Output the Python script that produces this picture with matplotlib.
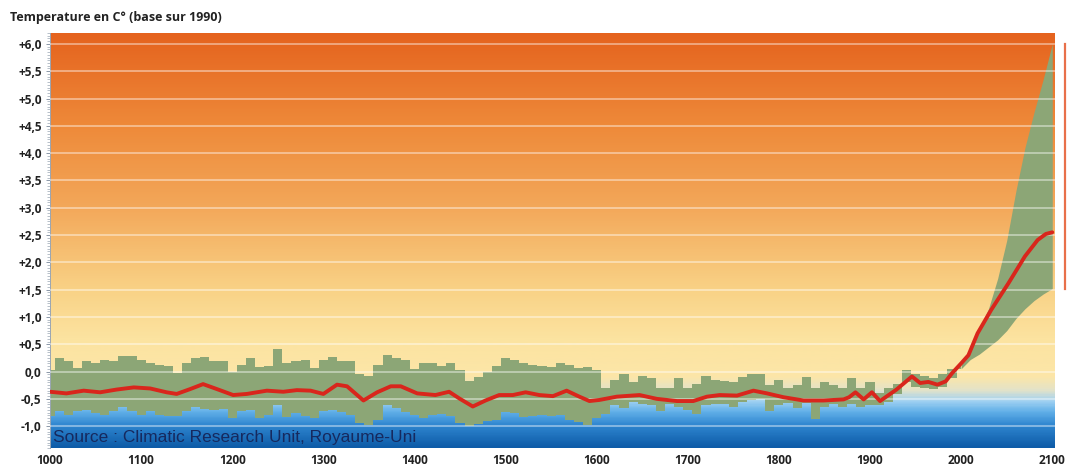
import numpy as np
import matplotlib
matplotlib.use("Agg")
import matplotlib.pyplot as plt
from matplotlib.colors import LinearSegmentedColormap
from matplotlib.ticker import MultipleLocator
import matplotlib.transforms as mtransforms

# DATA
title = "Temperature en C° (base sur 1990)"
source = "Source : Climatic Research Unit, Royaume-Uni"

x_ticks = [1000, 1100, 1200, 1300, 1400, 1500, 1600, 1700, 1800, 1900, 2000, 2100]
y_ticks = [-1.0, -0.5, 0.0, 0.5, 1.0, 1.5, 2.0, 2.5, 3.0, 3.5, 4.0, 4.5, 5.0, 5.5, 6.0]
y_labels = ["-1,0", "-0,5", "0,0", "+0,5", "+1,0", "+1,5", "+2,0", "+2,5", "+3,0",
            "+3,5", "+4,0", "+4,5", "+5,0", "+5,5", "+6,0"]

# reconstructed range, one value per decade 1000..2000
hist_years = list(range(1000, 2001, 10))
hist_upper = [
    0.03, 0.24, 0.20, 0.07, 0.20, 0.15, 0.22, 0.20, 0.28, 0.28,
    0.22, 0.15, 0.12, 0.10, -0.03, 0.15, 0.25, 0.26, 0.20, 0.20,
    0.00, 0.12, 0.25, 0.08, 0.10, 0.42, 0.15, 0.20, 0.22, 0.06,
    0.22, 0.27, 0.20, 0.20, -0.05, -0.08, 0.12, 0.30, 0.25, 0.22,
    0.05, 0.15, 0.15, 0.10, 0.15, 0.02, -0.18, -0.10, 0.00, 0.10,
    0.25, 0.22, 0.15, 0.12, 0.10, 0.08, 0.15, 0.12, 0.06, 0.08,
    0.03, -0.30, -0.15, -0.05, -0.20, -0.08, -0.12, -0.30, -0.30, -0.12,
    -0.30, -0.22, -0.08, -0.15, -0.17, -0.20, -0.10, -0.04, -0.05, -0.25,
    -0.15, -0.30, -0.25, -0.10, -0.30, -0.20, -0.25, -0.30, -0.12, -0.30,
    -0.20, -0.40, -0.30, -0.22, 0.02, -0.05, -0.08, -0.12, -0.05, 0.05,
    0.12,
]
hist_lower = [
    -0.82, -0.73, -0.79, -0.73, -0.70, -0.76, -0.79, -0.73, -0.64, -0.73,
    -0.79, -0.73, -0.79, -0.82, -0.82, -0.73, -0.64, -0.68, -0.70, -0.68,
    -0.85, -0.72, -0.70, -0.85, -0.80, -0.62, -0.84, -0.76, -0.82, -0.85,
    -0.72, -0.70, -0.74, -0.80, -0.95, -0.98, -0.88, -0.62, -0.66, -0.74,
    -0.80, -0.85, -0.80, -0.78, -0.82, -0.95, -1.00, -0.96, -0.90, -0.88,
    -0.74, -0.76, -0.84, -0.82, -0.80, -0.82, -0.80, -0.88, -0.92, -0.98,
    -0.85, -0.78, -0.62, -0.66, -0.56, -0.60, -0.62, -0.72, -0.60, -0.65,
    -0.70, -0.78, -0.62, -0.60, -0.60, -0.64, -0.56, -0.52, -0.50, -0.72,
    -0.62, -0.58, -0.66, -0.58, -0.86, -0.65, -0.60, -0.64, -0.60, -0.64,
    -0.62, -0.62, -0.55, -0.42, -0.20, -0.28, -0.30, -0.32, -0.28, -0.12,
    0.05,
]

# projection range 2000..2100
proj_years = [2000, 2010, 2020, 2030, 2040, 2050, 2060, 2070, 2080, 2090, 2100]
proj_upper = [0.12, 0.45, 0.80, 1.15, 1.70, 2.40, 3.30, 4.10, 4.75, 5.35, 6.00]
proj_lower = [0.05, 0.22, 0.32, 0.45, 0.58, 0.75, 0.97, 1.15, 1.30, 1.42, 1.52]

# smoothed mean curve
mean_years = [1000, 1018, 1037, 1055, 1073, 1092, 1110, 1128, 1139, 1154,
              1168, 1183, 1201, 1216, 1238, 1256, 1271, 1286, 1300, 1315,
              1326, 1344, 1359, 1374, 1385, 1403, 1423, 1438, 1449, 1464,
              1478, 1493, 1508, 1522, 1537, 1552, 1567, 1581, 1592, 1603,
              1622, 1647, 1666, 1688, 1706, 1721, 1735, 1754, 1772, 1787,
              1805, 1827, 1849, 1871, 1877, 1884, 1893, 1902, 1911, 1929,
              1946, 1955, 1964, 1974, 1983, 1990, 2000, 2008, 2013, 2018,
              2033, 2052, 2070, 2084, 2093, 2100]
mean_vals = [-0.37, -0.40, -0.35, -0.38, -0.33, -0.29, -0.31, -0.38, -0.41, -0.32,
             -0.23, -0.32, -0.43, -0.41, -0.35, -0.37, -0.34, -0.35, -0.41, -0.24,
             -0.27, -0.53, -0.38, -0.27, -0.27, -0.40, -0.43, -0.37, -0.49, -0.64,
             -0.53, -0.43, -0.43, -0.38, -0.43, -0.45, -0.35, -0.46, -0.54, -0.52,
             -0.46, -0.43, -0.50, -0.54, -0.54, -0.46, -0.43, -0.44, -0.35, -0.40,
             -0.47, -0.53, -0.53, -0.51, -0.47, -0.38, -0.51, -0.38, -0.54, -0.33,
             -0.09, -0.21, -0.19, -0.24, -0.18, -0.03, 0.15, 0.30, 0.50, 0.70,
             1.13, 1.62, 2.11, 2.41, 2.52, 2.55]

# range of the 2100 projection, drawn outside the plot
range_bar = [1.52, 6.0]

# STYLE
YMIN, YMAX = -1.40, 6.20
XMIN, XMAX = 1000, 2103

bg_stops = [
    (-1.40, "#0E5CA8"),
    (-1.00, "#2F86D0"),
    (-0.75, "#62B0E8"),
    (-0.55, "#A2D2F2"),
    (-0.35, "#E4E3C8"),
    (-0.10, "#FCE6A8"),
    (0.60, "#FCE3A0"),
    (1.50, "#F9D286"),
    (3.00, "#F3A85A"),
    (4.50, "#EE8A3A"),
    (6.20, "#E5631E"),
]

fig = plt.figure(figsize=(10.69, 4.68), dpi=100)
ax = fig.add_axes([50 / 1069, 20 / 468, 1005 / 1069, 415 / 468])

# BACKGROUND GRADIENT
cmap = LinearSegmentedColormap.from_list(
    "bg",
    [((v - YMIN) / (YMAX - YMIN), c) for v, c in bg_stops]
)
grad = np.linspace(YMIN, YMAX, 600).reshape(-1, 1)
ax.imshow(grad, cmap=cmap, vmin=YMIN, vmax=YMAX, origin="lower",
          extent=[XMIN, XMAX, YMIN, YMAX], aspect="auto", zorder=0)

# BANDS
green = "#8CA676"
ax.fill_between(hist_years, hist_lower, hist_upper, step="mid",
                color=green, linewidth=0, zorder=2)
ax.fill_between(proj_years, proj_lower, proj_upper,
                color=green, linewidth=0, zorder=2)

# GRID LINES
for t in y_ticks:
    ax.axhline(t, color="white", alpha=0.45, linewidth=1.3, zorder=3)

# MEAN CURVE
ax.plot(mean_years, mean_vals, color="#D9261C", linewidth=2.8,
        solid_joinstyle="round", solid_capstyle="round", zorder=4)

# RANGE BAR ON THE RIGHT
trans = mtransforms.blended_transform_factory(ax.transAxes, ax.transData)
ax.plot([1.01, 1.01], range_bar, color="#E8704A", linewidth=1.6,
        transform=trans, clip_on=False)

# SOURCE
ax.text(1003, -1.21, source, fontsize=12.5, color="#16295E",
        family="Liberation Sans", va="center", ha="left", zorder=5)

# AXES
ax.set_xlim(XMIN, XMAX)
ax.set_ylim(YMIN, YMAX)
ax.set_xticks(x_ticks)
ax.set_xticklabels([str(x) for x in x_ticks], fontsize=8.5,
                   fontweight="bold", family="Open Sans", color="#222222")
ax.set_yticks(y_ticks)
ax.set_yticklabels(y_labels, fontsize=8.5, fontweight="bold",
                   family="Open Sans", color="#222222")
ax.yaxis.set_minor_locator(MultipleLocator(0.05))
ax.tick_params(axis="x", length=0, pad=4)
ax.tick_params(axis="y", which="major", length=3, width=0.7,
               color="#8a97a8", pad=3)
ax.tick_params(axis="y", which="minor", length=2, width=0.5,
               color="#9aa6b4")
for side in ["top", "right", "bottom"]:
    ax.spines[side].set_visible(False)
ax.spines["left"].set_color("#9aa6b4")
ax.spines["left"].set_linewidth(0.7)

fig.text(10 / 1069, 1 - 18 / 468, title, fontsize=9, fontweight="bold",
         family="Open Sans", color="#222222", va="center", ha="left")

fig.savefig("out.png", dpi=100)
